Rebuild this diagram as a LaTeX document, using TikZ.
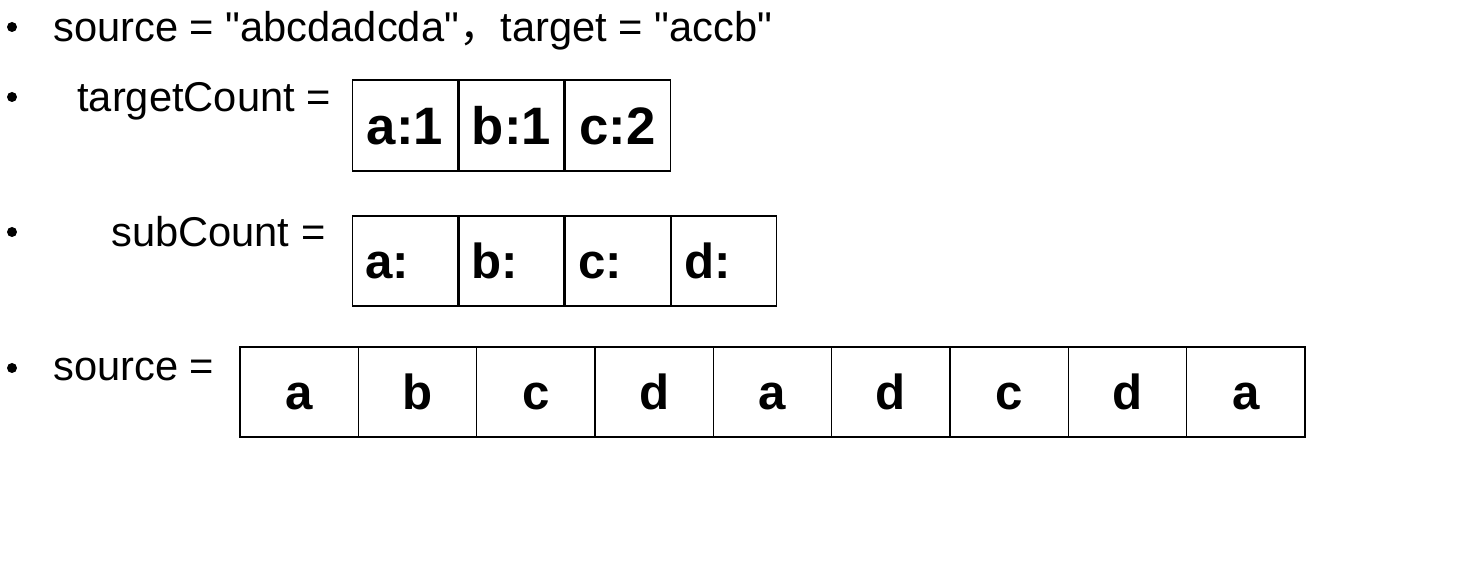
\documentclass[tikz,border=0pt]{standalone}
\usepackage{fontspec}
\setmainfont{Liberation Sans}[Ligatures=TeXOff]
\newfontfamily\cjk{Noto Sans CJK SC}
\usetikzlibrary{positioning}
\tikzset{
  dot/.style={circle, fill, inner sep=0pt, minimum size=0.2cm},
  linetext/.style={anchor=base west, inner sep=0pt, font=\fontsize{23.7}{28}\selectfont},
  tcell/.style={draw, line width=0.8pt, minimum width=2.1cm, minimum height=1.82cm, inner sep=0pt, text height=21.5pt, text depth=0pt, font=\bfseries\fontsize{30}{36}\selectfont},
  scell/.style={draw, line width=0.8pt, text width=1.58cm, inner xsep=0.26cm, inner ysep=0pt, align=left, minimum height=1.8cm, text height=20pt, text depth=0pt, font=\bfseries\fontsize{28}{34}\selectfont},
  srccell/.style={draw, line width=0.8pt, minimum width=2.3667cm, minimum height=1.8cm, inner sep=0pt, text height=20pt, text depth=0pt, font=\bfseries\fontsize{28}{34}\selectfont},
}
\begin{document}
\begin{tikzpicture}[x=0.02cm, y=-0.02cm]
\useasboundingbox (0,0) rectangle (1471,573);
% bullets
\foreach \yy [count=\i] in {27,97,232,368}
  \node[dot] (bul\i) at (12,\yy) {};
\node[linetext] (line1) at (53,42) {source = "abcdadcda"{\cjk ，}target = "accb"};
\node[linetext] (tclabel) at (77,112) {targetCount =};
\node[linetext] (sclabel) at (111,247) {subCount =};
\node[linetext] (srclabel) at (53,381) {source =};
% targetCount
\node[tcell] (t1) at (405,125.5) {a:1};
\node[tcell, right=0pt of t1] (t2) {b:1};
\node[tcell, right=0pt of t2] (t3) {c:2};
% subCount
\node[scell] (s1) at (405,261) {a:};
\node[scell, right=0pt of s1] (s2) {b:};
\node[scell, right=0pt of s2] (s3) {c:};
\node[scell, right=0pt of s3] (s4) {d:};
% source
\foreach \ch [count=\i] in {a,b,c,d,a,d,c,d,a}
  \node[srccell] (src\i) at ({240+118.33*(\i-0.5)},392) {\ch};
\end{tikzpicture}
\end{document}
